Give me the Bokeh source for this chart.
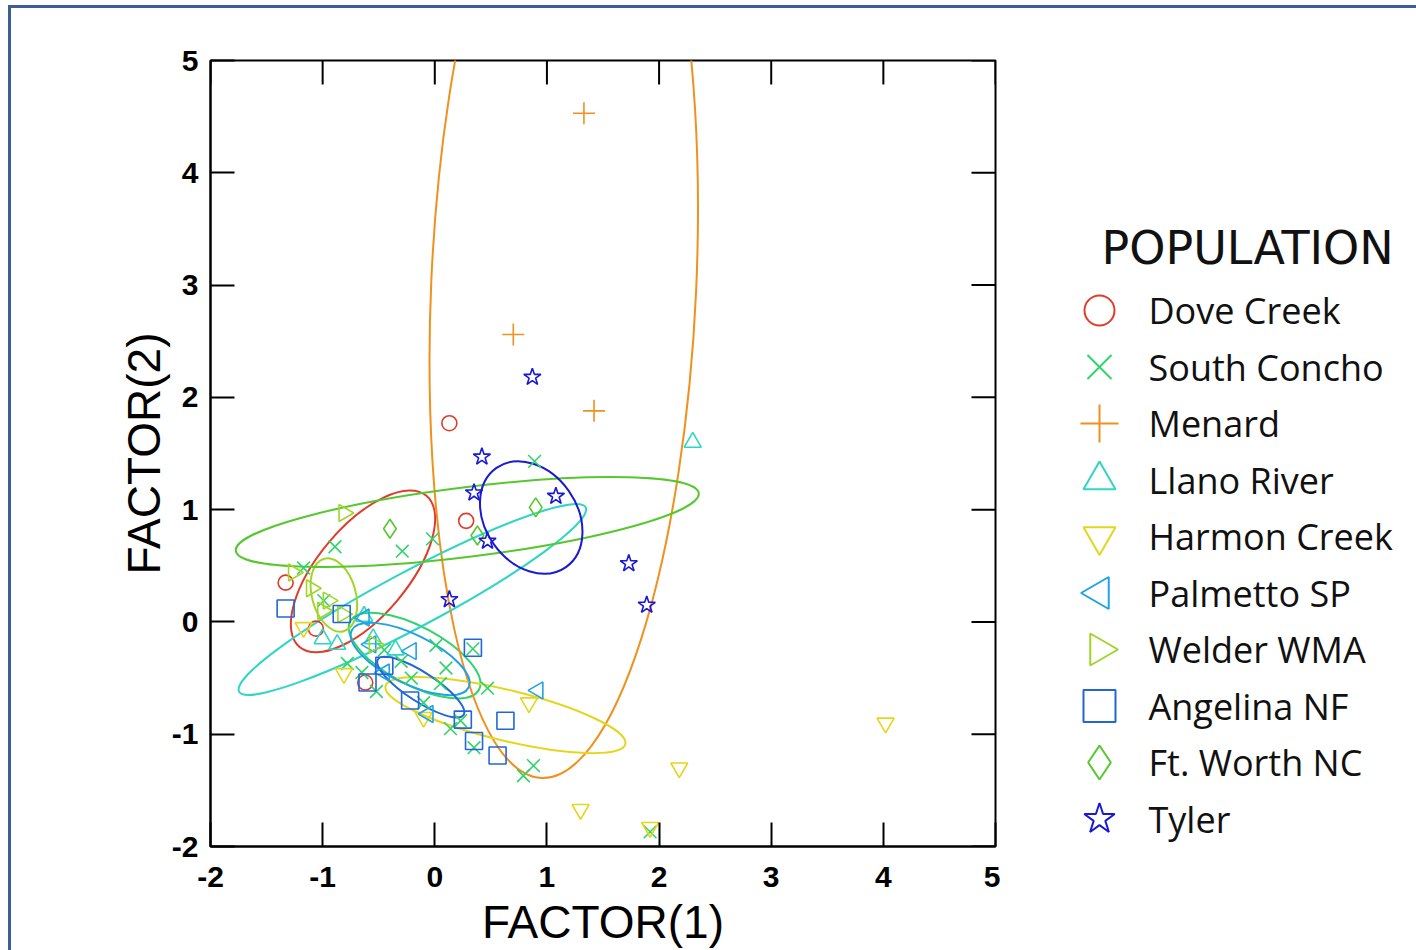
import numpy as np
from bokeh.plotting import figure
from bokeh.models import Range1d, FixedTicker
from bokeh.layouts import row
from bokeh.embed import file_html
from bokeh.resources import INLINE
from bokeh.core.properties import value

# ---------------- data ----------------
names = ["Dove Creek", "South Concho", "Menard", "Llano River", "Harmon Creek",
         "Palmetto SP", "Welder WMA", "Angelina NF", "Ft. Worth NC", "Tyler"]
colors = ["#e03c2c", "#2fd46a", "#f0901e", "#2fd6c2", "#e4d61c",
          "#22a2e6", "#a0d628", "#2266d8", "#56c82e", "#1a1ad2"]

dove_x = [0.13, 0.28, -1.33, -1.06, -0.62]
dove_y = [1.77, 0.90, 0.35, -0.06, -0.54]

concho_x = [0.89, -0.89, -0.29, -0.02, -1.17, -0.99, -0.78, -0.65, -0.52, -0.45,
            -0.21, 0.01, 0.10, 0.34, 0.47, 0.14, 0.23, 0.35, 0.88, 0.79, 1.92,
            -0.30, -0.10, 0.05]
concho_y = [1.43, 0.67, 0.63, 0.74, 0.48, 0.19, -0.37, -0.45, -0.62, -0.25,
            -0.50, -0.21, -0.41, -0.24, -0.59, -0.95, -0.88, -1.12, -1.28, -1.37, -1.87,
            -0.35, -0.72, -0.55]

menard_x = [1.33, 0.70, 1.42]
menard_y = [4.53, 2.56, 1.88]

llano_x = [2.30, -1.00, -0.87, -0.63, -0.55, -0.35]
llano_y = [1.60, -0.15, -0.20, 0.05, -0.15, -0.25]

harmon_x = [4.02, 2.18, 1.30, 1.92, 0.84, -0.81, -1.17, -0.10]
harmon_y = [-0.90, -1.30, -1.67, -1.83, -0.72, -0.46, -0.05, -0.85]

palmetto_x = [0.92, -0.21, -0.63, -0.57, -0.06, -0.45]
palmetto_y = [-0.61, -0.26, 0.04, -0.20, -0.82, -0.45]

welder_x = [-0.81, -1.26, -0.95, -0.82, -0.54, -1.10, -1.00]
welder_y = [0.97, 0.44, 0.19, 0.07, -0.20, 0.30, 0.10]

angelina_x = [-1.33, -0.83, 0.34, -0.60, -0.45, -0.22, 0.25, 0.35, 0.56, 0.63]
angelina_y = [0.12, 0.07, -0.23, -0.54, -0.39, -0.70, -0.87, -1.06, -1.19, -0.88]

ftworth_x = [-0.40, 0.90, 0.38]
ftworth_y = [0.83, 1.02, 0.77]

tyler_x = [0.87, 0.42, 0.35, 0.47, 1.08, 1.73, 1.89, 0.13]
tyler_y = [2.18, 1.47, 1.15, 0.72, 1.12, 0.52, 0.15, 0.20]

group_x = [dove_x, concho_x, menard_x, llano_x, harmon_x, palmetto_x, welder_x, angelina_x, ftworth_x, tyler_x]
group_y = [dove_y, concho_y, menard_y, llano_y, harmon_y, palmetto_y, welder_y, angelina_y, ftworth_y, tyler_y]

# confidence ellipses: centre, full axes, angle (deg)
ell_cx = [-0.64, -0.18, 1.15, -0.20, 0.63, -0.22, -0.90, -0.125, 0.29, 0.86]
ell_cy = [0.45, -0.30, 3.00, 0.20, -0.83, -0.33, 0.24, -0.58, 0.89, 0.93]
ell_w = [1.76, 1.30, 8.80, 3.50, 2.20, 1.16, 0.67, 0.91, 4.16, 1.08]
ell_h = [0.80, 0.52, 2.36, 0.50, 0.45, 0.44, 0.39, 0.26, 0.62, 0.82]
ell_ang = [50, -28, 87.4, 28, -13.6, -26, 105, -33, 7.1, -55]

x_ticks = [-2, -1, 0, 1, 2, 3, 4, 5]
y_ticks = [-2, -1, 0, 1, 2, 3, 4, 5]
X_MIN, X_MAX = -2, 5
Y_MIN, Y_MAX = -2, 5

# ---------------- styles ----------------
markers = ["circle", "x", "cross", "triangle", "inverted_triangle",
           "triangle", "triangle", "square", "diamond", "star"]
m_angles = [0, 0, 0, 0, 0, np.pi / 2, -np.pi / 2, 0, 0, 0]
m_sizes = [15, 18, 22, 17, 17, 17, 17, 17, 19, 18]
lg_sizes = [30, 34, 38, 32, 32, 32, 32, 32, 34, 32]

FONT = "Liberation Sans"
FRAME_W, FRAME_H = 785, 786
TICK_PX = 24

p = figure(width=1000, height=950, x_range=Range1d(X_MIN, X_MAX), y_range=Range1d(Y_MIN, Y_MAX),
           output_backend="svg", toolbar_location=None,
           min_border_left=210, min_border_right=5, min_border_top=60, min_border_bottom=104,
           background_fill_color="white", border_fill_color=None)
p.grid.visible = False
p.outline_line_color = "black"
p.outline_line_width = 2

p.xaxis.ticker = FixedTicker(ticks=x_ticks)
p.yaxis.ticker = FixedTicker(ticks=y_ticks)
p.xaxis.major_label_overrides = {t: str(t) for t in x_ticks}
p.yaxis.major_label_overrides = {t: str(t) for t in y_ticks}

for ax in p.axis:
    ax.axis_line_color = "black"
    ax.axis_line_width = 2
    ax.major_tick_in = TICK_PX
    ax.major_tick_out = 0
    ax.minor_tick_in = 0
    ax.minor_tick_out = 0
    ax.major_tick_line_width = 2
    ax.major_tick_line_color = "black"

bx = p.xaxis[0]
bx.major_label_text_font = FONT
bx.major_label_text_font_size = "30px"
bx.major_label_text_font_style = "bold"
bx.major_label_text_color = "black"
bx.major_label_standoff = 20
bx.axis_label = "FACTOR(1)"
bx.axis_label_text_font = FONT
bx.axis_label_text_font_size = "46px"
bx.axis_label_text_font_style = "normal"
bx.axis_label_text_color = "black"
bx.axis_label_text_line_height = 1.0
bx.axis_label_standoff = 6

ly = p.yaxis[0]
ly.major_label_text_font = FONT
ly.major_label_text_font_size = "30px"
ly.major_label_text_font_style = "bold"
ly.major_label_text_color = "black"
ly.major_label_standoff = 12
ly.axis_label = "FACTOR(2)"
ly.axis_label_text_font = FONT
ly.axis_label_text_font_size = "46px"
ly.axis_label_text_font_style = "normal"
ly.axis_label_text_color = "black"
ly.axis_label_standoff = -1

# inward ticks on the top and right edges of the box
dx_tick = TICK_PX * (X_MAX - X_MIN) / FRAME_W
dy_tick = TICK_PX * (Y_MAX - Y_MIN) / FRAME_H
p.segment(x0=x_ticks, y0=[Y_MAX] * len(x_ticks), x1=x_ticks, y1=[Y_MAX - dy_tick] * len(x_ticks),
          line_color="black", line_width=2)
p.segment(x0=[X_MAX] * len(y_ticks), y0=y_ticks, x1=[X_MAX - dx_tick] * len(y_ticks), y1=y_ticks,
          line_color="black", line_width=2)

# ellipses
p.ellipse(x=ell_cx, y=ell_cy, width=ell_w, height=ell_h, angle=ell_ang, angle_units="deg",
          fill_color=None, line_color=colors, line_width=2)

# points
for gx, gy, mk, ang, sz, c in zip(group_x, group_y, markers, m_angles, m_sizes, colors):
    p.scatter(gx, gy, marker=mk, angle=ang, size=sz, fill_color=None,
              line_color=c, line_width=1.6)

# ---------------- legend panel ----------------
lg = figure(width=416, height=950, x_range=Range1d(1000, 1416), y_range=Range1d(846, 60),
            output_backend="svg", toolbar_location=None,
            min_border_left=0, min_border_right=0, min_border_top=60, min_border_bottom=104,
            x_axis_location=None, y_axis_location=None,
            background_fill_color=None, border_fill_color=None)
lg.grid.visible = False
lg.outline_line_color = None

TOP = 310
PITCH = 56.5
item_y = [TOP + i * PITCH for i in range(len(names))]
mark_x = [1099] * len(names)
text_x = [1148] * len(names)

for i, (mk, ang, sz, c) in enumerate(zip(markers, m_angles, lg_sizes, colors)):
    lg.scatter([mark_x[i]], [item_y[i]], marker=mk, angle=ang, size=sz,
               fill_color=None, line_color=c, line_width=2)

lg.text(x=text_x, y=item_y, text=names, text_font=value("Open Sans"),
        text_font_size="36px", text_baseline="middle", text_align="left",
        text_color="#111111")
lg.text(x=[1101], y=[247], text=["POPULATION"], text_font=value("DejaVu Sans"),
        text_font_size="46px", text_baseline="middle", text_align="left",
        text_color="#111111")

frame_bg = ("linear-gradient(#3b5f91, #3b5f91) 8px 5px / 100% 3px no-repeat, "
            "linear-gradient(#3b5f91, #3b5f91) 8px 5px / 3px 100% no-repeat, white")
layout = row(p, lg, spacing=0, styles={"background": frame_bg})
open("out.html", "w").write(file_html(layout, INLINE))
